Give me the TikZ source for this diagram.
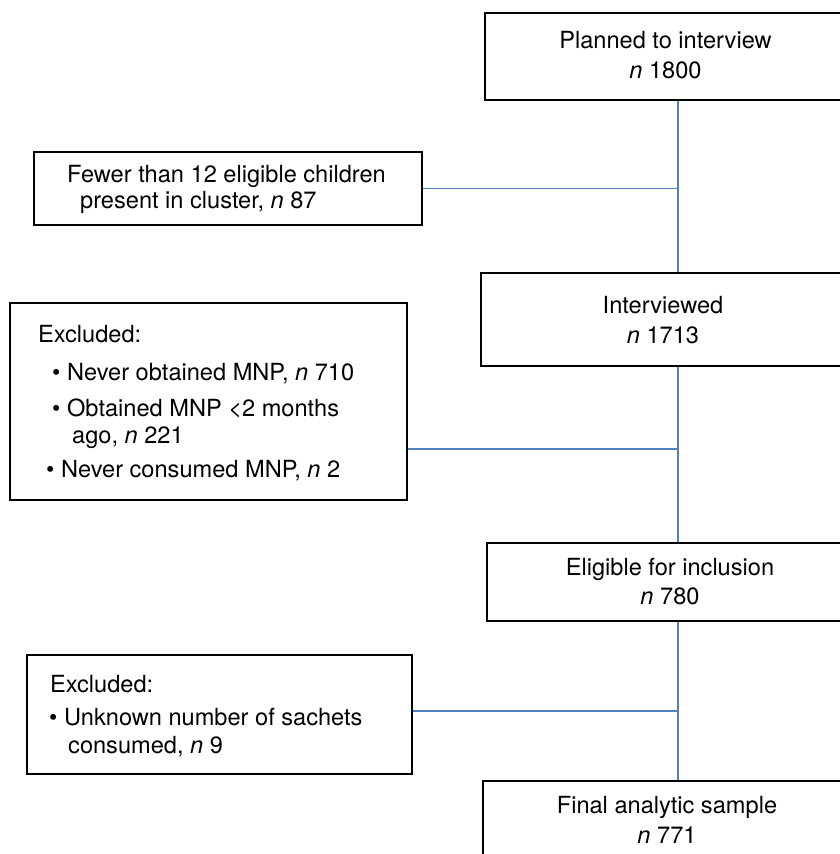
\documentclass[tikz,border=0pt]{standalone}
\usepackage{fontspec}
\setmainfont{TeX Gyre Heros}
\begin{document}
\begin{tikzpicture}[x=1pt,y=-1pt,
  box/.style={draw=black,line width=2.2pt,rectangle,inner sep=0pt},
  conn/.style={draw={rgb,255:red,79;green,129;blue,189},line width=1.4pt},
  txt/.style={inner sep=0pt,anchor=base,font=\fontsize{23.6}{28}\selectfont},
  ltxt/.style={txt,anchor=base west}]
\useasboundingbox (0,0) rectangle (840,854);
\begin{scope}
\clip (0,0) rectangle (840,854);
% right column boxes
\node[box,minimum width=361pt,minimum height=87pt] (b1) at (665.5,56.5) {};
\node[box,minimum width=365pt,minimum height=93pt] (b3) at (663.5,319.5) {};
\node[box,minimum width=363pt,minimum height=78pt] (b5) at (668.5,582) {};
\node[box,minimum width=367pt,minimum height=118pt] (b7) at (666.5,840) {};
% left column boxes
\node[box,minimum width=388pt,minimum height=73pt] (b2) at (228,188.5) {};
\node[box,minimum width=397pt,minimum height=197pt] (b4) at (208.5,401.5) {};
\node[box,minimum width=385pt,minimum height=119pt] (b6) at (219.5,714.5) {};
% junctions
\coordinate (vx) at (678,0);
\coordinate (j1) at (678,188.5);
\coordinate (j2) at (678,449);
\coordinate (j3) at (678,711);
% connectors
\draw[conn] (b1.south -| vx) -- (b3.north -| vx);
\draw[conn] (b3.south -| vx) -- (b5.north -| vx);
\draw[conn] (b5.south -| vx) -- (b7.north -| vx);
\draw[conn] (b2.east) -- (j1);
\draw[conn] (j2 -| b4.east) -- (j2);
\draw[conn] (j3 -| b6.east) -- (j3);
% texts right column
\node[txt] (t1a) at (665.5,48) {Planned to interview};
\node[txt] (t1b) at (665.5,78) {\textit{n} 1800};
\node[txt] (t3a) at (663,313) {Interviewed};
\node[txt] (t3b) at (663,343) {\textit{n} 1713};
\node[txt] (t5a) at (670,575) {Eligible for inclusion};
\node[txt] (t5b) at (670,604) {\textit{n} 780};
\node[txt] (t7a) at (667,813) {Final analytic sample};
\node[txt] (t7b) at (667,843) {\textit{n} 771};
% texts left column
\node[ltxt] (t2a) at (67,182) {Fewer than 12 eligible children};
\node[ltxt] (t2b) at (80,208) {present in cluster, \textit{n} 87};
\node[ltxt] (t4a) at (38,342) {Excluded:};
\node[ltxt] (t4b) at (52,380) {\textbullet\ Never obtained MNP, \textit{n} 710};
\node[ltxt] (t4c) at (52,416) {\textbullet\ Obtained MNP \textless2 months};
\node[ltxt] (t4d) at (72,443) {ago, \textit{n} 221};
\node[ltxt] (t4e) at (46,477) {\textbullet\ Never consumed MNP, \textit{n} 2};
\node[ltxt] (t6a) at (50,692) {Excluded:};
\node[ltxt] (t6b) at (49,725) {\textbullet\ Unknown number of sachets};
\node[ltxt] (t6c) at (68,753) {consumed, \textit{n} 9};
\end{scope}
\end{tikzpicture}
\end{document}
